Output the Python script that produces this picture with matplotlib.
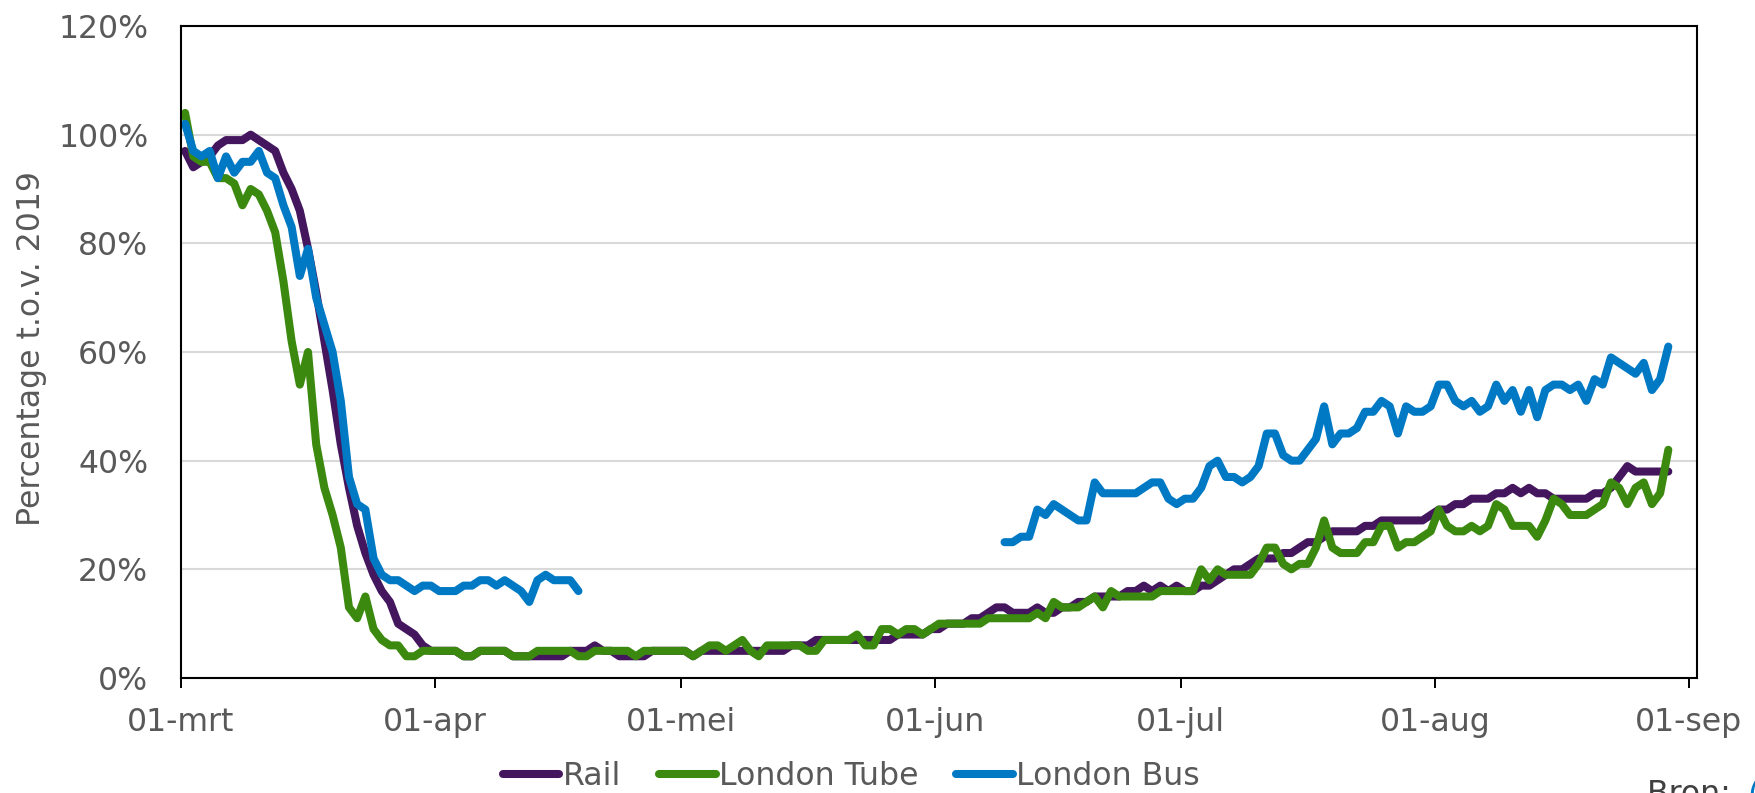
import numpy as np
import pandas as pd
import matplotlib
matplotlib.use("Agg")
import matplotlib.pyplot as plt

# daily values, % of same day in 2019, starting 01-03-2020
rail = [97, 94, 95, 96, 98, 99, 99, 99, 100, 99, 98, 97, 93, 90, 86, 79, 71, 62, 53, 43,
        35, 28, 23, 19, 16, 14, 10, 9, 8, 6, 5, 5, 5, 5, 4, 4, 5, 5, 5, 5,
        4, 4, 4, 4, 4, 4, 4, 5, 5, 5, 6, 5, 5, 4, 4, 4, 4, 5, 5, 5,
        5, 5, 4, 5, 5, 5, 5, 5, 5, 5, 5, 5, 5, 5, 6, 6, 6, 7, 7, 7,
        7, 7, 7, 7, 7, 7, 7, 8, 8, 8, 8, 9, 9, 10, 10, 10, 11, 11, 12, 13,
        13, 12, 12, 12, 13, 12, 12, 13, 13, 14, 14, 15, 15, 15, 15, 16, 16, 17, 16, 17,
        16, 17, 16, 16, 17, 17, 18, 19, 20, 20, 21, 22, 22, 22, 23, 23, 24, 25, 25, 26,
        27, 27, 27, 27, 28, 28, 29, 29, 29, 29, 29, 29, 30, 31, 31, 32, 32, 33, 33, 33,
        34, 34, 35, 34, 35, 34, 34, 33, 33, 33, 33, 33, 34, 34, 35, 37, 39, 38, 38, 38,
        38, 38]

tube = [104, 96, 95, 95, 92, 92, 91, 87, 90, 89, 86, 82, 73, 62, 54, 60, 43, 35, 30, 24,
        13, 11, 15, 9, 7, 6, 6, 4, 4, 5, 5, 5, 5, 5, 4, 4, 5, 5, 5, 5,
        4, 4, 4, 5, 5, 5, 5, 5, 4, 4, 5, 5, 5, 5, 5, 4, 5, 5, 5, 5,
        5, 5, 4, 5, 6, 6, 5, 6, 7, 5, 4, 6, 6, 6, 6, 6, 5, 5, 7, 7,
        7, 7, 8, 6, 6, 9, 9, 8, 9, 9, 8, 9, 10, 10, 10, 10, 10, 10, 11, 11,
        11, 11, 11, 11, 12, 11, 14, 13, 13, 13, 14, 15, 13, 16, 15, 15, 15, 15, 15, 16,
        16, 16, 16, 16, 20, 18, 20, 19, 19, 19, 19, 21, 24, 24, 21, 20, 21, 21, 24, 29,
        24, 23, 23, 23, 25, 25, 28, 28, 24, 25, 25, 26, 27, 31, 28, 27, 27, 28, 27, 28,
        32, 31, 28, 28, 28, 26, 29, 33, 32, 30, 30, 30, 31, 32, 36, 35, 32, 35, 36, 32,
        34, 42]

bus_spring = [102, 97, 96, 97, 92, 96, 93, 95, 95, 97, 93, 92, 87, 83, 74, 79, 70, 65, 60, 51,
              37, 32, 31, 22, 19, 18, 18, 17, 16, 17, 17, 16, 16, 16, 17, 17, 18, 18, 17, 18,
              17, 16, 14, 18, 19, 18, 18, 18, 16]
bus_summer = [25, 25, 26, 26, 31, 30, 32, 31, 30, 29, 29, 36, 34, 34, 34, 34, 34, 35, 36, 36,
              33, 32, 33, 33, 35, 39, 40, 37, 37, 36, 37, 39, 45, 45, 41, 40, 40, 42, 44, 50,
              43, 45, 45, 46, 49, 49, 51, 50, 45, 50, 49, 49, 50, 54, 54, 51, 50, 51, 49, 50,
              54, 51, 53, 49, 53, 48, 53, 54, 54, 53, 54, 51, 55, 54, 59, 58, 57, 56, 58, 53,
              55, 61]
bus_gap = 51  # days without bus data (19-04 .. 08-06)

month_labels = ["01-mrt", "01-apr", "01-mei", "01-jun", "01-jul", "01-aug", "01-sep"]
month_starts = ["2020-03-01", "2020-04-01", "2020-05-01", "2020-06-01",
                "2020-07-01", "2020-08-01", "2020-09-01"]
y_ticks = [0, 20, 40, 60, 80, 100, 120]

bus = bus_spring + [np.nan] * bus_gap + bus_summer

# excel date axis: each day is a slot, point sits in the middle
dates = pd.date_range("2020-03-01", periods=len(rail)) + pd.Timedelta(hours=12)

GREY = "#595959"
FS = 22.7

fig = plt.figure(figsize=(17.55, 7.93), dpi=100)
ax = fig.add_axes([0.10313, 0.14502, 0.86382, 0.82219])

ax.grid(axis="y", color="#D9D9D9", linewidth=1.5, zorder=0)
ax.set_axisbelow(True)

lw = 5.8
ax.plot(dates, rail, color="#44165E", lw=lw, solid_capstyle="round", solid_joinstyle="round",
        label="Rail", zorder=3)
ax.plot(dates, tube, color="#3B8A0F", lw=lw, solid_capstyle="round", solid_joinstyle="round",
        label="London Tube", zorder=4)
ax.plot(dates, bus, color="#0079C5", lw=lw, solid_capstyle="round", solid_joinstyle="round",
        label="London Bus", zorder=5)

ax.set_xlim(pd.Timestamp("2020-03-01"), pd.Timestamp("2020-09-02"))
ax.set_ylim(0, 120)

ax.set_xticks(pd.to_datetime(month_starts))
ax.set_xticklabels(month_labels)
ax.set_yticks(y_ticks)
ax.set_yticklabels([f"{v}%" for v in y_ticks])

ax.tick_params(axis="x", direction="out", length=7.2, width=1.4, color="black",
               pad=14, labelsize=FS, labelcolor=GREY)
ax.tick_params(axis="y", length=0, pad=23.5, labelsize=FS, labelcolor=GREY)

for s in ax.spines.values():
    s.set_color("black")
    s.set_linewidth(1.5)
    s.set_zorder(6)

fig.text(32 / 1755, 1 - 348 / 793, "Percentage t.o.v. 2019", rotation=90,
         ha="center", va="center", fontsize=FS, color=GREY)

fig.legend(loc="center", bbox_to_anchor=(0.485, 0.021), ncol=3, frameon=False,
           fontsize=FS, labelcolor=GREY, handlelength=1.8, handletextpad=0.1,
           columnspacing=1.2, borderaxespad=0, borderpad=0)

# source line, cut off at the bottom edge like in the original
fig.text(1647 / 1755, 1 - 779 / 793, "Bron: ", ha="left", va="top", fontsize=FS, color="#404040")
fig.text(1747 / 1755, 1 - 779 / 793, "(", ha="left", va="top", fontsize=FS, color="#0079C5")

fig.savefig("out.png", dpi=100)
